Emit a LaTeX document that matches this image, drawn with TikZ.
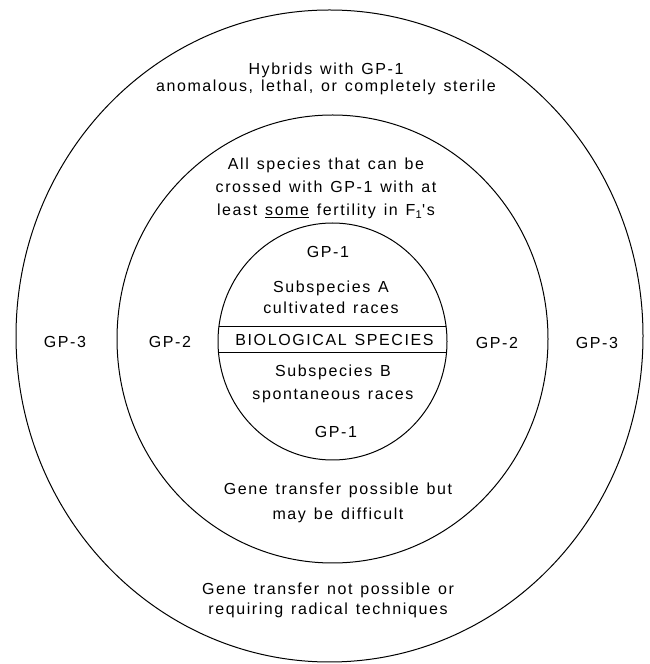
\documentclass[tikz,border=0pt]{standalone}
\usepackage{fontspec}
\newfontfamily\lettering[LetterSpace=10,WordSpace=1.3]{Liberation Sans}
\newcommand\letterfont{\lettering\fontsize{16}{19.2}\selectfont}

\begin{document}
\begin{tikzpicture}[x=1pt,y=1pt,
ring/.style={line width=1pt},
note/.style={align=center,font=\letterfont,inner sep=0pt}]
\useasboundingbox (0,0) rectangle (650,664);
\draw[ring] (329.5,328) ellipse [x radius=313.5pt,y radius=326pt];
\draw[ring] (332.5,325) ellipse [x radius=215.5pt,y radius=224pt];
\draw[ring] (332.5,322.5) ellipse [x radius=114.5pt,y radius=118.5pt];
\begin{scope}
\clip (332.5,322.5) ellipse [x radius=114.5pt,y radius=118.5pt];
\draw[ring] (200,337) -- (460,337) (200,311) -- (460,311);
\end{scope}
\node[note] (hyb) at (326,585) {Hybrids with GP-1\\[-2pt] anomalous, lethal, or completely sterile};
\node[note] (cross) at (326,475.5) {All species that can be\\[4pt] crossed with GP-1 with at\\[4pt] least \underline{some} fertility in F\textsubscript{1}'s};
\node[note] (gpa) at (328,412) {GP-1};
\node[note] (suba) at (331,366.5) {Subspecies A\\[2pt] cultivated races};
\node[note] (bio) at (334.5,324) {BIOLOGICAL SPECIES};
\node[note] (subb) at (333,280.5) {Subspecies B\\[4pt] spontaneous races};
\node[note] (gpb) at (336,232) {GP-1};
\node[note] (diff) at (338,161.5) {Gene transfer possible but\\[6pt] may be difficult};
\node[note] (radical) at (328,64) {Gene transfer not possible or\\[1pt] requiring radical techniques};
\node[note] (gpcl) at (65,322) {GP-3};
\node[note] (gpbl) at (170,322) {GP-2};
\node[note] (gpbr) at (497,321) {GP-2};
\node[note] (gpcr) at (597,321) {GP-3};
\end{tikzpicture}
\end{document}
